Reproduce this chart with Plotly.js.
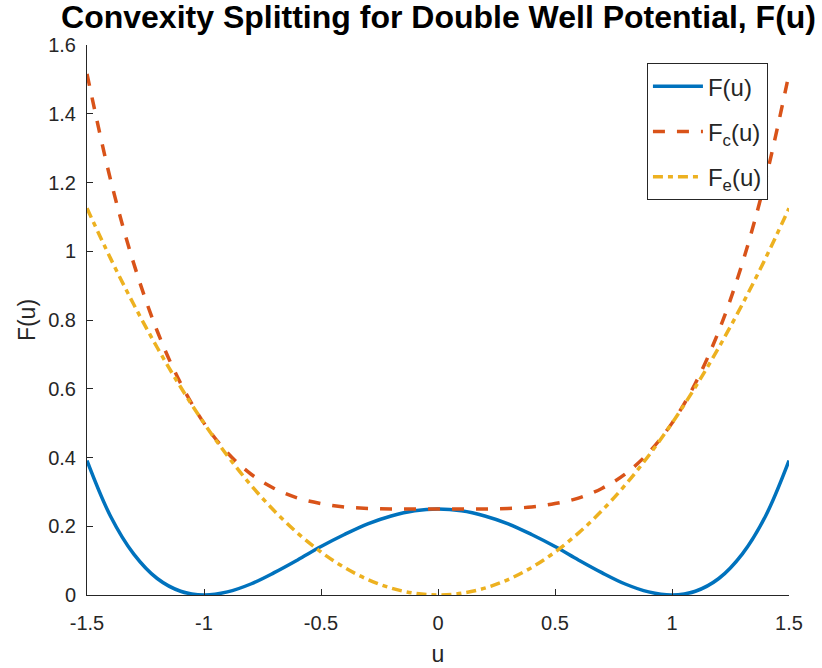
<!DOCTYPE html>
<html>
<head>
<meta charset="utf-8">
<script src="https://cdn.plot.ly/plotly-3.0.1.min.js"></script>
<style>html,body{margin:0;padding:0;background:#fff;}#chart{width:822px;height:668px;}</style>
</head>
<body>
<div id="chart"></div>
<script>
var u = [-1.5,-1.4,-1.3,-1.2,-1.1,-1.0,-0.9,-0.8,-0.7,-0.6,-0.5,-0.4,-0.3,-0.2,-0.1,0,0.1,0.2,0.3,0.4,0.5,0.6,0.7,0.8,0.9,1.0,1.1,1.2,1.3,1.4,1.5];
var F  = [0.391,0.230,0.119,0.048,0.011,0.000,0.009,0.032,0.065,0.102,0.141,0.176,0.207,0.230,0.245,0.250,0.245,0.230,0.207,0.176,0.141,0.102,0.065,0.032,0.009,0.000,0.011,0.048,0.119,0.230,0.391];
var Fc = [1.516,1.210,0.964,0.768,0.616,0.500,0.414,0.352,0.310,0.282,0.266,0.256,0.252,0.250,0.250,0.250,0.250,0.250,0.252,0.256,0.266,0.282,0.310,0.352,0.414,0.500,0.616,0.768,0.964,1.210,1.516];
var Fe = [1.125,0.980,0.845,0.720,0.605,0.500,0.405,0.320,0.245,0.180,0.125,0.080,0.045,0.020,0.005,0.000,0.005,0.020,0.045,0.080,0.125,0.180,0.245,0.320,0.405,0.500,0.605,0.720,0.845,0.980,1.125];
var names = ['F(u)','F<sub>c</sub>(u)','F<sub>e</sub>(u)'];
var xTicks = [-1.5,-1,-0.5,0,0.5,1,1.5];
var xTickText = ['-1.5','-1','-0.5','0','0.5','1','1.5'];
var yTicks = [0,0.2,0.4,0.6,0.8,1,1.2,1.4,1.6];
var yTickText = ['0','0.2','0.4','0.6','0.8','1','1.2','1.4','1.6'];

var FONT = 'Liberation Sans, Arial, Helvetica, sans-serif';
var traces = [
  {x:u, y:F, name:names[0], legendgroup:'a', mode:'lines', line:{color:'#0072BD', width:3.5, shape:'spline'}},
  {x:u, y:Fc, name:names[1], legendgroup:'b', mode:'lines', line:{color:'#D95319', width:3.5, dash:'12px,12px', shape:'spline'}},
  {x:u, y:Fe, name:names[2], legendgroup:'c', mode:'lines', line:{color:'#EDB120', width:3.5, dash:'10px,5px,5px,5px', shape:'spline'}}
];
var axisCommon = {
  showgrid:false, zeroline:false, showline:true, linecolor:'#262626', linewidth:1,
  ticks:'inside', ticklen:6, tickcolor:'#262626', tickwidth:1,
  tickfont:{family:FONT, size:20, color:'#262626'},
  mirror:false
};
var layout = {
  width:822, height:668,
  margin:{l:87, r:33, t:45, b:73},
  paper_bgcolor:'#fff', plot_bgcolor:'#fff',
  title:{text:'<b>Convexity Splitting for Double Well Potential, F(u)</b>', x:0.5335, xanchor:'center', y:0.975, yanchor:'middle',
    font:{family:FONT, size:32, color:'#000'}},
  xaxis:Object.assign({}, axisCommon, {range:[-1.5,1.5], tickvals:xTicks, ticktext:xTickText, ticklabelstandoff:10,
    title:{text:'u', font:{family:FONT, size:23, color:'#262626'}, standoff:12}}),
  yaxis:Object.assign({}, axisCommon, {range:[0,1.6], tickvals:yTicks, ticktext:yTickText, ticklabelstandoff:6,
    title:{text:'F(u)', font:{family:FONT, size:23, color:'#262626'}, standoff:6}}),
  showlegend:true,
  legend:{x:0.970, y:0.967, xanchor:'right', yanchor:'top', bordercolor:'#262626', borderwidth:1, bgcolor:'#fff',
    font:{family:FONT, size:24, color:'#262626'}, itemwidth:50, tracegroupgap:11, traceorder:'grouped'}
};
Plotly.newPlot('chart', traces, layout, {displayModeBar:false});
</script>
</body>
</html>
